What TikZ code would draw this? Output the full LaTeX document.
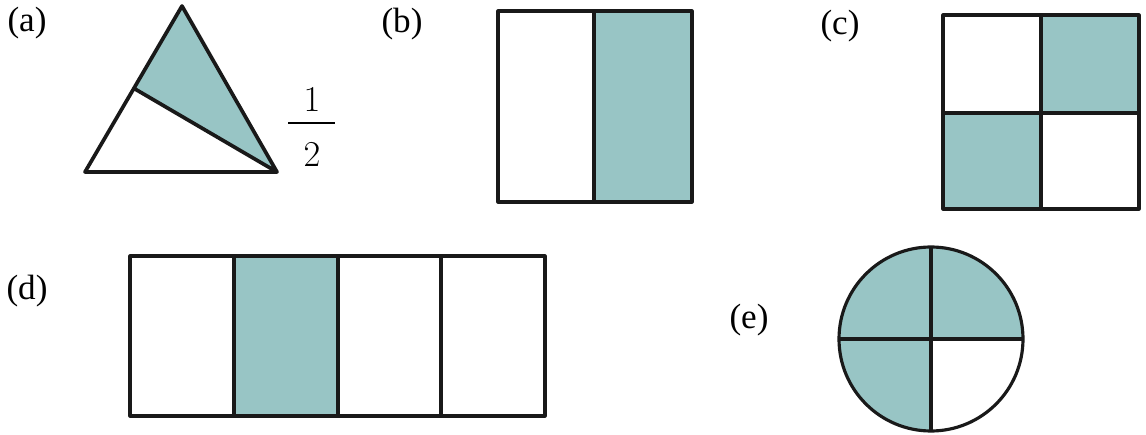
\documentclass[tikz,border=0pt]{standalone}
\usepackage{fontspec}
\setmainfont{Liberation Serif}
\usetikzlibrary{positioning}
\definecolor{shade}{RGB}{152,197,197}

\begin{document}
\begin{tikzpicture}[
    x=0.02cm, y=-0.02cm,
    lbl/.style={font=\fontsize{20}{24}\selectfont, inner sep=0pt},
    digit/.style={font=\fontsize{21}{24}\selectfont, inner sep=0pt},
    outline/.style={draw=black!90, line width=1.8pt, line join=round},
    part/.style={fill=shade}
  ]
  \useasboundingbox (0,0) rectangle (1146,435);
  % (a) triangle cut in two
  \node[lbl] (la) at (27,23) {(a)};
  \coordinate (apex) at (182,6);
  \coordinate (bl) at (85,172);
  \coordinate (br) at (277,172);
  \coordinate (cut) at (135,89);
  \fill[part] (apex) -- (cut) -- (br) -- cycle;
  \draw[outline, line width=2.1pt] (bl) -- (br) -- (apex) -- cycle (cut) -- (br);
  \node[digit] (num) at (312,100) {$1$};
  \node[digit] (den) at (312,155) {$2$};
  \draw[line width=1.2pt] (288,123) -- (335,123);
  % (b) halves
  \node[lbl] (lb) at (402,24) {(b)};
  \fill[part] (594,11) rectangle (692,202);
  \draw[outline] (498,11) rectangle (692,202) (594,11) -- (594,202);
  % (c) quarters
  \node[lbl] (lc) at (840,26) {(c)};
  \fill[part] (1041,15) rectangle (1139,113);
  \fill[part] (943,113) rectangle (1041,209);
  \draw[outline] (943,15) rectangle (1139,209) (1041,15) -- (1041,209) (943,113) -- (1139,113);
  % (d) four strips
  \node[lbl] (ld) at (27,291) {(d)};
  \fill[part] (234,256) rectangle (338,416);
  \draw[outline] (130,256) rectangle (545,416);
  \foreach \x in {234,338,441}
    \draw[outline] (\x,256) -- (\x,416);
  % (e) circle
  \node[lbl] (le) at (749,320) {(e)};
  \coordinate (e0) at (931,339);
  \fill[part] (e0) circle[radius=92];
  \fill[white] (e0) -- ++(92,0) arc[start angle=0, end angle=90, radius=92] -- cycle;
  \draw[outline] (e0) circle[radius=92];
  \draw[outline] (e0) ++(-92,0) -- ++(184,0) (e0) ++(0,-92) -- ++(0,184);
\end{tikzpicture}
\end{document}
